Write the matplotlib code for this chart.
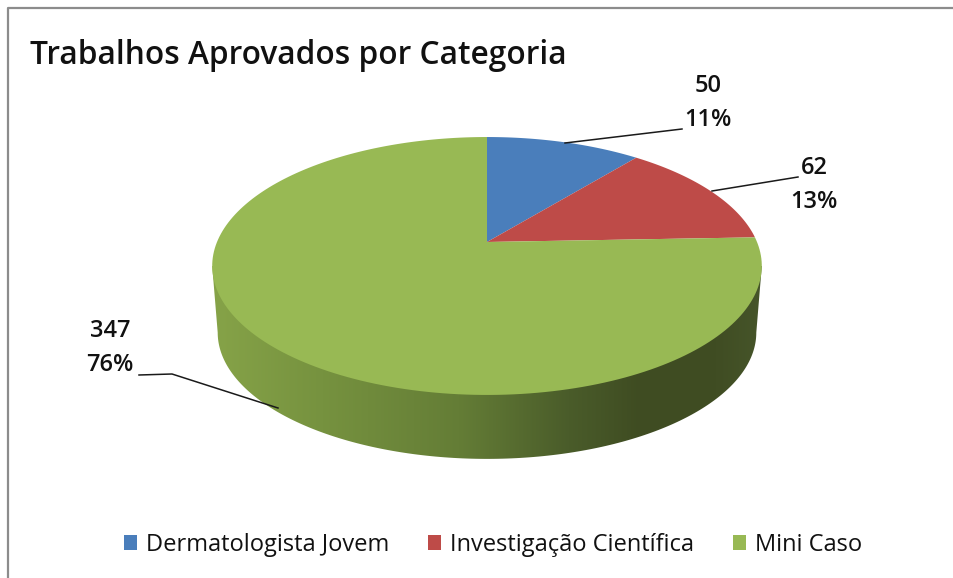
import numpy as np
import matplotlib
matplotlib.use('Agg')
import matplotlib.pyplot as plt
from matplotlib.colors import LinearSegmentedColormap
from matplotlib.patches import Patch, Polygon

categories = ['Dermatologista Jovem', 'Investigação Científica', 'Mini Caso']
values = [50, 62, 347]
percents = ['11%', '13%', '76%']
colors = ['#4a7ebb', '#be4b48', '#98b954']
title = 'Trabalhos Aprovados por Categoria'

plt.rcParams['font.family'] = ['Open Sans', 'DejaVu Sans']

# work in image pixels, y pointing down
fig = plt.figure(figsize=(9.54, 5.78), dpi=100)
ax = fig.add_axes([0, 0, 1, 1])

# tilted disc: a circle seen in perspective, so the far half looks flatter
CX, CY = 487, 242
K, A, B = 0.186, 124.5, 270


def project(t, scale=1.0, drop=0.0):
    w = 1 + K * np.cos(t)
    return CX + scale * B * np.sin(t) / w, CY + drop - scale * A * np.cos(t) / w


# side wall first, the top face covers most of it
t_edge = np.arccos(-K)
t_low = np.linspace(t_edge, 2 * np.pi - t_edge, 200)
bx, by = project(t_low, 0.98, 67)
tx, ty = project(np.array([2 * np.pi - t_edge, t_edge]))
wall = Polygon(np.column_stack([np.r_[bx, tx], np.r_[by, ty]]), closed=True,
               fc='none', ec='none')
ax.add_patch(wall)
shade = LinearSegmentedColormap.from_list('wall', [
    (0.00, '#86a348'), (0.20, '#76923f'), (0.45, '#647d36'),
    (0.65, '#4a5c2a'), (0.78, '#3f4c22'), (0.92, '#404d23'), (1.00, '#46552a')])
img = ax.imshow(np.linspace(0, 1, 256)[None, :], cmap=shade, aspect='auto',
                extent=[212, 762, 460, 260], zorder=1)
img.set_clip_path(wall)

# top face, one polygon per slice
edges = np.r_[0, np.cumsum(values)] / np.sum(values) * 2 * np.pi
for start, end, color in zip(edges[:-1], edges[1:], colors):
    t = np.linspace(start, end, 200)
    x, y = project(t)
    ax.fill(np.r_[CX, x], np.r_[CY, y], color=color, lw=0, zorder=2)

# leader lines
ax.plot([565, 682], [143, 129], color='#1a1a1a', lw=1.1, zorder=3)
ax.plot([712, 798], [191, 177], color='#1a1a1a', lw=1.1, zorder=3)
ax.plot([139, 172, 278], [375, 374, 408], color='#1a1a1a', lw=1.1, zorder=3)

# data labels
label_pos = [(708, 102), (814, 184), (110, 347)]
for value, pct, (lx, ly) in zip(values, percents, label_pos):
    ax.text(lx, ly - 16, str(value), ha='center', va='center', fontsize=17,
            fontweight='semibold', color='#111111')
    ax.text(lx, ly + 18, pct, ha='center', va='center', fontsize=17,
            fontweight='semibold', color='#111111')

ax.text(30, 56, title, ha='left', va='center', fontsize=22.8,
        fontweight='semibold', color='#111111')

handles = [Patch(fc=c, ec='none', label=n) for c, n in zip(colors, categories)]
ax.legend(handles=handles, ncols=3, loc='center', bbox_to_anchor=(493 / 954, 1 - 545 / 578),
          frameon=False, fontsize=17, handlelength=0.55, handleheight=0.6,
          handletextpad=0.38, columnspacing=1.65, labelcolor='#111111',
          bbox_transform=fig.transFigure)

# frame of the pasted chart, only top and left are visible
ax.plot([8, 8, 954], [578, 8, 8], color='#8c8c8c', lw=1.6, zorder=3)

ax.set_xlim(0, 954)
ax.set_ylim(578, 0)
ax.axis('off')
fig.savefig('out.png', dpi=100, facecolor='white')
